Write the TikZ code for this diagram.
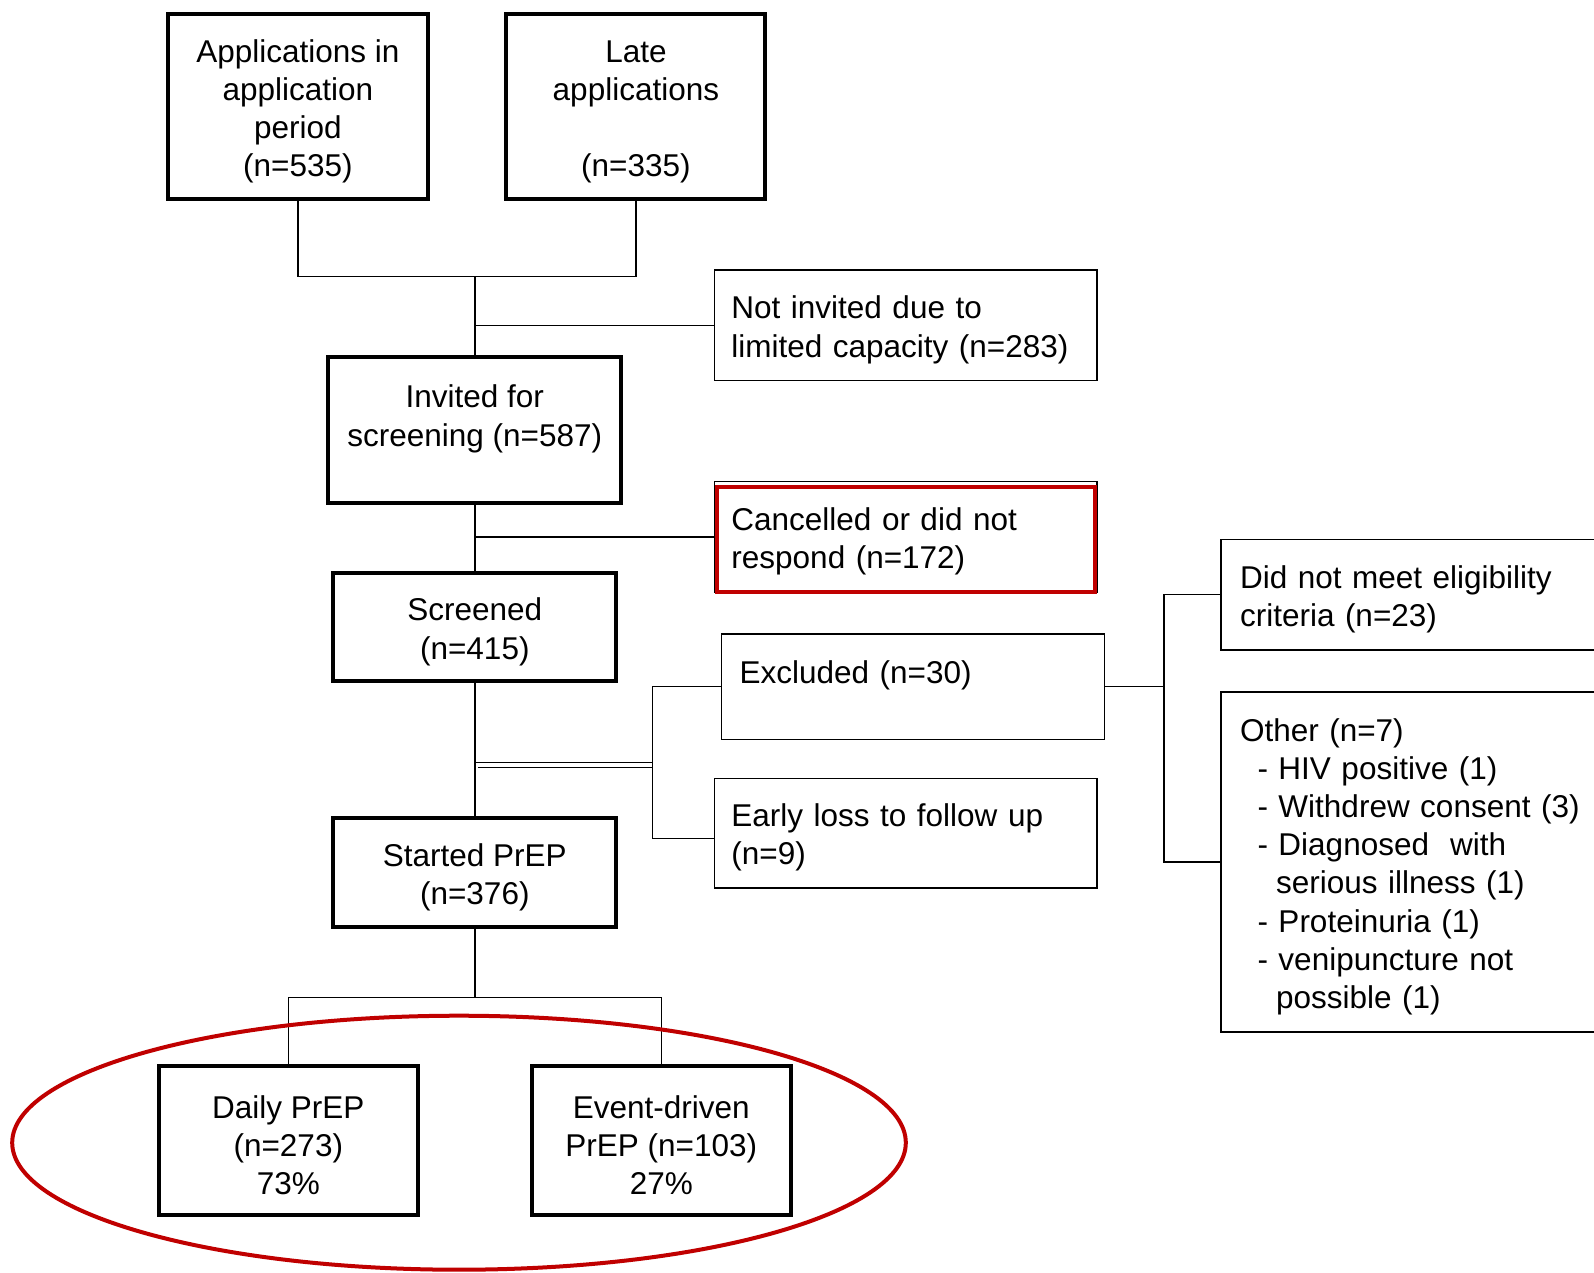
\documentclass[tikz,border=0pt]{standalone}
\usepackage{fontspec}
\setmainfont{Liberation Sans}
\definecolor{boxred}{RGB}{192,0,0}
\newcommand\tfx{\rule{0pt}{32pt}}
\begin{document}
\begin{tikzpicture}[x=1pt,y=-1pt,
  font=\fontsize{31.5}{38.2}\selectfont,
  thickbox/.style={draw, line width=4pt, inner sep=0pt, align=center},
  thinbox/.style={draw, line width=1.5pt, inner ysep=0pt, inner xsep=17pt, align=left},
  conn/.style={line width=1.5pt},
  redmark/.style={draw=boxred, line width=4pt}]
\useasboundingbox (0,0) rectangle (1594,1272);
\clip (0,0) rectangle (1594,1272);
\fill[white] (0,0) rectangle (1594,1272);

% main column
\node[thickbox, minimum width=260pt, minimum height=185pt] (A) at (297.9,106.8)
  {\tfx Applications in\\application\\period\\(n=535)};
\node[thickbox, minimum width=259pt, minimum height=185pt] (B) at (635.9,106.8)
  {\tfx Late\\applications\\\mbox{}\\(n=335)};
\node[thickbox, minimum width=293pt, minimum height=146.4pt] (C) at (474.8,430)
  {\tfx Invited for\\screening (n=587)\\\mbox{}};
\node[thickbox, minimum width=282.7pt, minimum height=108pt] (D) at (474.8,627.3)
  {\tfx Screened\\(n=415)};
\node[thickbox, minimum width=282.7pt, minimum height=109pt] (E) at (474.8,872.8)
  {\tfx Started PrEP\\(n=376)};
\node[thickbox, minimum width=259.3pt, minimum height=148.5pt] (F) at (288.3,1140.7)
  {\tfx Daily PrEP\\(n=273)\\73\%};
\node[thickbox, minimum width=259.4pt, minimum height=148.5pt] (G) at (661.3,1140.7)
  {\tfx Event-driven\\PrEP (n=103)\\27\%};

% side boxes
\node[thinbox, text width=348.7pt, minimum height=110.3pt] (ni) at (905.8,325.3)
  {\tfx Not invited due to\\limited capacity (n=283)};
\node[thinbox, text width=348.7pt, minimum height=110.3pt] (cx) at (905.8,536.8)
  {\tfx Cancelled or did not\\respond (n=172)};
\node[thinbox, inner xsep=18pt, text width=346.7pt, minimum height=105.3pt] (ex) at (912.9,686.7)
  {\tfx Excluded (n=30)\\\mbox{}};
\node[thinbox, text width=348.7pt, minimum height=109.3pt] (el) at (905.8,833.1)
  {\tfx Early loss to follow up\\(n=9)};
\node[thinbox, inner xsep=19pt, text width=360pt, minimum height=110.3pt] (dn) at (1420,594.7)
  {\tfx Did not meet eligibility\\criteria (n=23)};
\node[thinbox, inner xsep=19pt, text width=360pt, minimum height=340pt] (ot) at (1420,862.1)
  {\tfx Other (n=7)\\
   \hspace*{17.5pt}- HIV positive (1)\\
   \hspace*{17.5pt}- Withdrew consent (3)\\
   \hspace*{17.5pt}- Diagnosed\ \ with\\
   \hspace*{36pt}serious illness (1)\\
   \hspace*{17.5pt}- Proteinuria (1)\\
   \hspace*{17.5pt}- venipuncture not\\
   \hspace*{36pt}possible (1)};

% red highlight inside the cancelled box
\draw[redmark] ([xshift=3.2pt,yshift=-6.4pt]cx.north west) rectangle ([xshift=-3.2pt,yshift=1.2pt]cx.south east);

% junction coordinates
\coordinate (j1) at (474.8,276.5);
\coordinate (j2) at (652.7,765);
\coordinate (j2a) at (652.7,762.5);
\coordinate (j2b) at (652.7,767.5);
\coordinate (j3) at (1164,686.7);
\coordinate (j4) at (474.8,997.3);

% connectors
\draw[conn] (A.south) |- (j1) -| (B.south);
\draw[conn] (j1) -- (C.north);
\draw[conn] (ni.west) -- (ni.west -| j1);
\draw[conn] (C.south) -- (D.north);
\draw[conn] (cx.west) -- (cx.west -| C.south);
\draw[conn] (D.south) -- (E.north);
\draw[conn] (j2a -| D.south) -- (j2a);
\draw[conn] ([xshift=3pt]j2b -| D.south) -- (j2b);
\draw[conn] (ex.west) -| (j2);
\draw[conn] ([yshift=-5.6pt]el.west) -| (j2);
\draw[conn] (ex.east) -- (j3);
\draw[conn] (dn.west) -| (j3);
\draw[conn] (ot.west) -| (j3);
\draw[conn] (E.south) -- (j4);
\draw[conn] (F.north) |- (j4) -| (G.north);

% red ellipse round the two arms
\draw[redmark] (459,1142.7) ellipse [x radius=446.8, y radius=127];
\end{tikzpicture}
\end{document}
